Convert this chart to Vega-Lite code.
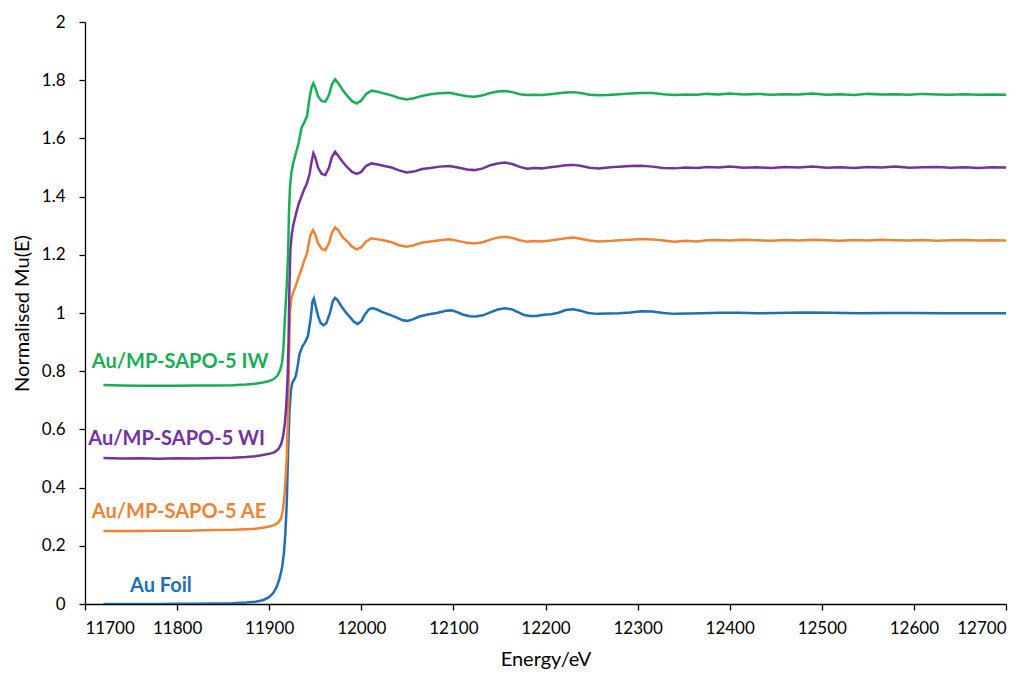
{
  "$schema": "https://vega.github.io/schema/vega-lite/v6.json",
  "autosize": {"type": "none"},
  "padding": {"left": 85, "top": 22, "right": 28, "bottom": 69},
  "width": 921,
  "height": 582,
  "background": "white",
  "config": {
    "view": {"stroke": null},
    "axis": {"grid": false, "domainColor": "#000000", "tickColor": "#000000", "labelColor": "#000000", "titleColor": "#000000", "labelFont": "Lato", "titleFont": "Lato", "labelFontSize": 17, "titleFontSize": 20, "titleFontWeight": "normal", "tickSize": 6, "domainWidth": 1.3, "tickWidth": 1.3}
  },
  "datasets": {
    "spectra": [
      {"s": "Au Foil", "e": 11720, "m": 0.000}, {"s": "Au Foil", "e": 11740, "m": 0.000}, {"s": "Au Foil", "e": 11760, "m": 0.000}, {"s": "Au Foil", "e": 11780, "m": 0.000}, {"s": "Au Foil", "e": 11800, "m": 0.001}, {"s": "Au Foil", "e": 11820, "m": 0.001}, {"s": "Au Foil", "e": 11840, "m": 0.002}, {"s": "Au Foil", "e": 11860, "m": 0.003}, {"s": "Au Foil", "e": 11875, "m": 0.005}, {"s": "Au Foil", "e": 11885, "m": 0.008}, {"s": "Au Foil", "e": 11893, "m": 0.013}, {"s": "Au Foil", "e": 11899, "m": 0.022}, {"s": "Au Foil", "e": 11904, "m": 0.036}, {"s": "Au Foil", "e": 11908, "m": 0.058}, {"s": "Au Foil", "e": 11911, "m": 0.085}, {"s": "Au Foil", "e": 11914, "m": 0.125}, {"s": "Au Foil", "e": 11916, "m": 0.175}, {"s": "Au Foil", "e": 11917.5, "m": 0.24}, {"s": "Au Foil", "e": 11919, "m": 0.34}, {"s": "Au Foil", "e": 11920.5, "m": 0.52}, {"s": "Au Foil", "e": 11922, "m": 0.66}, {"s": "Au Foil", "e": 11923.5, "m": 0.73}, {"s": "Au Foil", "e": 11925, "m": 0.76}, {"s": "Au Foil", "e": 11927, "m": 0.77}, {"s": "Au Foil", "e": 11929, "m": 0.785}, {"s": "Au Foil", "e": 11931, "m": 0.82}, {"s": "Au Foil", "e": 11933, "m": 0.86}, {"s": "Au Foil", "e": 11936, "m": 0.885}, {"s": "Au Foil", "e": 11939, "m": 0.9}, {"s": "Au Foil", "e": 11942, "m": 0.92}, {"s": "Au Foil", "e": 11945, "m": 0.98}, {"s": "Au Foil", "e": 11947, "m": 1.04}, {"s": "Au Foil", "e": 11948.5, "m": 1.05}, {"s": "Au Foil", "e": 11950, "m": 1.03}, {"s": "Au Foil", "e": 11953, "m": 0.99}, {"s": "Au Foil", "e": 11956, "m": 0.965}, {"s": "Au Foil", "e": 11959, "m": 0.958}, {"s": "Au Foil", "e": 11962, "m": 0.965}, {"s": "Au Foil", "e": 11966, "m": 1.0}, {"s": "Au Foil", "e": 11969, "m": 1.04}, {"s": "Au Foil", "e": 11971.5, "m": 1.052}, {"s": "Au Foil", "e": 11974, "m": 1.045}, {"s": "Au Foil", "e": 11978, "m": 1.025}, {"s": "Au Foil", "e": 11983, "m": 1.003}, {"s": "Au Foil", "e": 11988, "m": 0.985}, {"s": "Au Foil", "e": 11992, "m": 0.97}, {"s": "Au Foil", "e": 11996, "m": 0.962}, {"s": "Au Foil", "e": 12000, "m": 0.972}, {"s": "Au Foil", "e": 12004, "m": 0.995}, {"s": "Au Foil", "e": 12008, "m": 1.012}, {"s": "Au Foil", "e": 12012, "m": 1.017}, {"s": "Au Foil", "e": 12017, "m": 1.012}, {"s": "Au Foil", "e": 12023, "m": 1.003}, {"s": "Au Foil", "e": 12030, "m": 0.995}, {"s": "Au Foil", "e": 12038, "m": 0.985}, {"s": "Au Foil", "e": 12045, "m": 0.975}, {"s": "Au Foil", "e": 12050, "m": 0.973}, {"s": "Au Foil", "e": 12056, "m": 0.978}, {"s": "Au Foil", "e": 12063, "m": 0.988}, {"s": "Au Foil", "e": 12072, "m": 0.995}, {"s": "Au Foil", "e": 12082, "m": 1.0}, {"s": "Au Foil", "e": 12092, "m": 1.008}, {"s": "Au Foil", "e": 12098, "m": 1.009}, {"s": "Au Foil", "e": 12104, "m": 1.003}, {"s": "Au Foil", "e": 12110, "m": 0.995}, {"s": "Au Foil", "e": 12118, "m": 0.989}, {"s": "Au Foil", "e": 12124, "m": 0.988}, {"s": "Au Foil", "e": 12132, "m": 0.992}, {"s": "Au Foil", "e": 12140, "m": 1.002}, {"s": "Au Foil", "e": 12148, "m": 1.012}, {"s": "Au Foil", "e": 12156, "m": 1.016}, {"s": "Au Foil", "e": 12163, "m": 1.013}, {"s": "Au Foil", "e": 12170, "m": 1.003}, {"s": "Au Foil", "e": 12177, "m": 0.993}, {"s": "Au Foil", "e": 12183, "m": 0.99}, {"s": "Au Foil", "e": 12190, "m": 0.99}, {"s": "Au Foil", "e": 12198, "m": 0.994}, {"s": "Au Foil", "e": 12206, "m": 0.996}, {"s": "Au Foil", "e": 12214, "m": 1.001}, {"s": "Au Foil", "e": 12222, "m": 1.01}, {"s": "Au Foil", "e": 12230, "m": 1.013}, {"s": "Au Foil", "e": 12238, "m": 1.008}, {"s": "Au Foil", "e": 12246, "m": 1.0}, {"s": "Au Foil", "e": 12256, "m": 0.997}, {"s": "Au Foil", "e": 12268, "m": 0.998}, {"s": "Au Foil", "e": 12280, "m": 0.999}, {"s": "Au Foil", "e": 12292, "m": 1.002}, {"s": "Au Foil", "e": 12304, "m": 1.006}, {"s": "Au Foil", "e": 12316, "m": 1.005}, {"s": "Au Foil", "e": 12328, "m": 1.0}, {"s": "Au Foil", "e": 12340, "m": 0.997}, {"s": "Au Foil", "e": 12355, "m": 0.998}, {"s": "Au Foil", "e": 12370, "m": 0.999}, {"s": "Au Foil", "e": 12390, "m": 1.001}, {"s": "Au Foil", "e": 12410, "m": 1.001}, {"s": "Au Foil", "e": 12430, "m": 0.999}, {"s": "Au Foil", "e": 12450, "m": 1.0}, {"s": "Au Foil", "e": 12480, "m": 1.002}, {"s": "Au Foil", "e": 12510, "m": 1.001}, {"s": "Au Foil", "e": 12540, "m": 0.999}, {"s": "Au Foil", "e": 12570, "m": 1.0}, {"s": "Au Foil", "e": 12600, "m": 1.0}, {"s": "Au Foil", "e": 12630, "m": 0.999}, {"s": "Au Foil", "e": 12660, "m": 0.999}, {"s": "Au Foil", "e": 12700, "m": 0.999},

      {"s": "AE", "e": 11720, "m": 0.251}, {"s": "AE", "e": 11750, "m": 0.251}, {"s": "AE", "e": 11780, "m": 0.252}, {"s": "AE", "e": 11810, "m": 0.252}, {"s": "AE", "e": 11840, "m": 0.254}, {"s": "AE", "e": 11860, "m": 0.255}, {"s": "AE", "e": 11875, "m": 0.257}, {"s": "AE", "e": 11885, "m": 0.259}, {"s": "AE", "e": 11893, "m": 0.262}, {"s": "AE", "e": 11900, "m": 0.266}, {"s": "AE", "e": 11906, "m": 0.272}, {"s": "AE", "e": 11910, "m": 0.28}, {"s": "AE", "e": 11913, "m": 0.295}, {"s": "AE", "e": 11915, "m": 0.325}, {"s": "AE", "e": 11917, "m": 0.39}, {"s": "AE", "e": 11919, "m": 0.5}, {"s": "AE", "e": 11920.5, "m": 0.65}, {"s": "AE", "e": 11921.5, "m": 0.85}, {"s": "AE", "e": 11922.5, "m": 1.0}, {"s": "AE", "e": 11924, "m": 1.05}, {"s": "AE", "e": 11926, "m": 1.07}, {"s": "AE", "e": 11929, "m": 1.095}, {"s": "AE", "e": 11932, "m": 1.125}, {"s": "AE", "e": 11935, "m": 1.15}, {"s": "AE", "e": 11938, "m": 1.18}, {"s": "AE", "e": 11941, "m": 1.205}, {"s": "AE", "e": 11943, "m": 1.24}, {"s": "AE", "e": 11945, "m": 1.27}, {"s": "AE", "e": 11947.5, "m": 1.285}, {"s": "AE", "e": 11950, "m": 1.27}, {"s": "AE", "e": 11953, "m": 1.24}, {"s": "AE", "e": 11957, "m": 1.22}, {"s": "AE", "e": 11961, "m": 1.216}, {"s": "AE", "e": 11965, "m": 1.24}, {"s": "AE", "e": 11968, "m": 1.275}, {"s": "AE", "e": 11971.5, "m": 1.294}, {"s": "AE", "e": 11975, "m": 1.285}, {"s": "AE", "e": 11980, "m": 1.26}, {"s": "AE", "e": 11985, "m": 1.245}, {"s": "AE", "e": 11990, "m": 1.228}, {"s": "AE", "e": 11995, "m": 1.219}, {"s": "AE", "e": 12000, "m": 1.226}, {"s": "AE", "e": 12005, "m": 1.245}, {"s": "AE", "e": 12011, "m": 1.257}, {"s": "AE", "e": 12018, "m": 1.253}, {"s": "AE", "e": 12025, "m": 1.249}, {"s": "AE", "e": 12033, "m": 1.243}, {"s": "AE", "e": 12041, "m": 1.233}, {"s": "AE", "e": 12049, "m": 1.228}, {"s": "AE", "e": 12057, "m": 1.233}, {"s": "AE", "e": 12066, "m": 1.242}, {"s": "AE", "e": 12075, "m": 1.246}, {"s": "AE", "e": 12085, "m": 1.25}, {"s": "AE", "e": 12096, "m": 1.253}, {"s": "AE", "e": 12106, "m": 1.247}, {"s": "AE", "e": 12115, "m": 1.241}, {"s": "AE", "e": 12123, "m": 1.239}, {"s": "AE", "e": 12132, "m": 1.243}, {"s": "AE", "e": 12140, "m": 1.252}, {"s": "AE", "e": 12148, "m": 1.259}, {"s": "AE", "e": 12156, "m": 1.262}, {"s": "AE", "e": 12164, "m": 1.258}, {"s": "AE", "e": 12172, "m": 1.25}, {"s": "AE", "e": 12180, "m": 1.245}, {"s": "AE", "e": 12188, "m": 1.247}, {"s": "AE", "e": 12196, "m": 1.246}, {"s": "AE", "e": 12205, "m": 1.249}, {"s": "AE", "e": 12214, "m": 1.253}, {"s": "AE", "e": 12222, "m": 1.257}, {"s": "AE", "e": 12230, "m": 1.259}, {"s": "AE", "e": 12238, "m": 1.255}, {"s": "AE", "e": 12248, "m": 1.249}, {"s": "AE", "e": 12258, "m": 1.246}, {"s": "AE", "e": 12268, "m": 1.247}, {"s": "AE", "e": 12280, "m": 1.25}, {"s": "AE", "e": 12292, "m": 1.252}, {"s": "AE", "e": 12304, "m": 1.254}, {"s": "AE", "e": 12316, "m": 1.253}, {"s": "AE", "e": 12328, "m": 1.249}, {"s": "AE", "e": 12340, "m": 1.245}, {"s": "AE", "e": 12352, "m": 1.248}, {"s": "AE", "e": 12364, "m": 1.246}, {"s": "AE", "e": 12376, "m": 1.25}, {"s": "AE", "e": 12388, "m": 1.251}, {"s": "AE", "e": 12400, "m": 1.249}, {"s": "AE", "e": 12415, "m": 1.252}, {"s": "AE", "e": 12430, "m": 1.25}, {"s": "AE", "e": 12445, "m": 1.248}, {"s": "AE", "e": 12460, "m": 1.251}, {"s": "AE", "e": 12475, "m": 1.249}, {"s": "AE", "e": 12490, "m": 1.252}, {"s": "AE", "e": 12505, "m": 1.25}, {"s": "AE", "e": 12520, "m": 1.248}, {"s": "AE", "e": 12535, "m": 1.251}, {"s": "AE", "e": 12550, "m": 1.249}, {"s": "AE", "e": 12565, "m": 1.252}, {"s": "AE", "e": 12580, "m": 1.25}, {"s": "AE", "e": 12595, "m": 1.249}, {"s": "AE", "e": 12610, "m": 1.251}, {"s": "AE", "e": 12625, "m": 1.248}, {"s": "AE", "e": 12640, "m": 1.25}, {"s": "AE", "e": 12655, "m": 1.251}, {"s": "AE", "e": 12670, "m": 1.249}, {"s": "AE", "e": 12685, "m": 1.25}, {"s": "AE", "e": 12700, "m": 1.249},

      {"s": "WI", "e": 11720, "m": 0.502}, {"s": "WI", "e": 11740, "m": 0.5}, {"s": "WI", "e": 11760, "m": 0.501}, {"s": "WI", "e": 11780, "m": 0.499}, {"s": "WI", "e": 11800, "m": 0.501}, {"s": "WI", "e": 11820, "m": 0.5}, {"s": "WI", "e": 11840, "m": 0.502}, {"s": "WI", "e": 11860, "m": 0.503}, {"s": "WI", "e": 11875, "m": 0.505}, {"s": "WI", "e": 11885, "m": 0.508}, {"s": "WI", "e": 11893, "m": 0.512}, {"s": "WI", "e": 11900, "m": 0.516}, {"s": "WI", "e": 11906, "m": 0.522}, {"s": "WI", "e": 11910, "m": 0.532}, {"s": "WI", "e": 11913, "m": 0.55}, {"s": "WI", "e": 11915, "m": 0.575}, {"s": "WI", "e": 11917, "m": 0.62}, {"s": "WI", "e": 11918.5, "m": 0.68}, {"s": "WI", "e": 11920, "m": 0.78}, {"s": "WI", "e": 11921, "m": 0.9}, {"s": "WI", "e": 11922, "m": 1.1}, {"s": "WI", "e": 11923, "m": 1.22}, {"s": "WI", "e": 11924.5, "m": 1.27}, {"s": "WI", "e": 11926, "m": 1.3}, {"s": "WI", "e": 11929, "m": 1.34}, {"s": "WI", "e": 11932, "m": 1.375}, {"s": "WI", "e": 11935, "m": 1.4}, {"s": "WI", "e": 11938, "m": 1.425}, {"s": "WI", "e": 11941, "m": 1.446}, {"s": "WI", "e": 11944, "m": 1.48}, {"s": "WI", "e": 11946, "m": 1.52}, {"s": "WI", "e": 11948, "m": 1.549}, {"s": "WI", "e": 11950, "m": 1.535}, {"s": "WI", "e": 11953, "m": 1.5}, {"s": "WI", "e": 11957, "m": 1.478}, {"s": "WI", "e": 11961, "m": 1.474}, {"s": "WI", "e": 11965, "m": 1.5}, {"s": "WI", "e": 11968, "m": 1.535}, {"s": "WI", "e": 11971.5, "m": 1.554}, {"s": "WI", "e": 11975, "m": 1.54}, {"s": "WI", "e": 11980, "m": 1.518}, {"s": "WI", "e": 11985, "m": 1.5}, {"s": "WI", "e": 11990, "m": 1.485}, {"s": "WI", "e": 11995, "m": 1.478}, {"s": "WI", "e": 12000, "m": 1.485}, {"s": "WI", "e": 12005, "m": 1.505}, {"s": "WI", "e": 12011, "m": 1.514}, {"s": "WI", "e": 12018, "m": 1.51}, {"s": "WI", "e": 12025, "m": 1.505}, {"s": "WI", "e": 12033, "m": 1.5}, {"s": "WI", "e": 12041, "m": 1.49}, {"s": "WI", "e": 12049, "m": 1.483}, {"s": "WI", "e": 12057, "m": 1.486}, {"s": "WI", "e": 12066, "m": 1.495}, {"s": "WI", "e": 12075, "m": 1.498}, {"s": "WI", "e": 12085, "m": 1.503}, {"s": "WI", "e": 12096, "m": 1.505}, {"s": "WI", "e": 12106, "m": 1.499}, {"s": "WI", "e": 12115, "m": 1.493}, {"s": "WI", "e": 12123, "m": 1.491}, {"s": "WI", "e": 12132, "m": 1.497}, {"s": "WI", "e": 12140, "m": 1.508}, {"s": "WI", "e": 12148, "m": 1.514}, {"s": "WI", "e": 12156, "m": 1.517}, {"s": "WI", "e": 12164, "m": 1.512}, {"s": "WI", "e": 12172, "m": 1.502}, {"s": "WI", "e": 12180, "m": 1.496}, {"s": "WI", "e": 12188, "m": 1.498}, {"s": "WI", "e": 12196, "m": 1.497}, {"s": "WI", "e": 12205, "m": 1.501}, {"s": "WI", "e": 12214, "m": 1.504}, {"s": "WI", "e": 12222, "m": 1.508}, {"s": "WI", "e": 12230, "m": 1.509}, {"s": "WI", "e": 12238, "m": 1.506}, {"s": "WI", "e": 12248, "m": 1.499}, {"s": "WI", "e": 12258, "m": 1.497}, {"s": "WI", "e": 12268, "m": 1.5}, {"s": "WI", "e": 12280, "m": 1.503}, {"s": "WI", "e": 12292, "m": 1.505}, {"s": "WI", "e": 12304, "m": 1.506}, {"s": "WI", "e": 12316, "m": 1.503}, {"s": "WI", "e": 12328, "m": 1.498}, {"s": "WI", "e": 12340, "m": 1.497}, {"s": "WI", "e": 12352, "m": 1.5}, {"s": "WI", "e": 12364, "m": 1.498}, {"s": "WI", "e": 12376, "m": 1.502}, {"s": "WI", "e": 12388, "m": 1.5}, {"s": "WI", "e": 12400, "m": 1.503}, {"s": "WI", "e": 12415, "m": 1.499}, {"s": "WI", "e": 12430, "m": 1.501}, {"s": "WI", "e": 12445, "m": 1.498}, {"s": "WI", "e": 12460, "m": 1.502}, {"s": "WI", "e": 12475, "m": 1.5}, {"s": "WI", "e": 12490, "m": 1.503}, {"s": "WI", "e": 12505, "m": 1.499}, {"s": "WI", "e": 12520, "m": 1.501}, {"s": "WI", "e": 12535, "m": 1.498}, {"s": "WI", "e": 12550, "m": 1.502}, {"s": "WI", "e": 12565, "m": 1.5}, {"s": "WI", "e": 12580, "m": 1.503}, {"s": "WI", "e": 12595, "m": 1.499}, {"s": "WI", "e": 12610, "m": 1.501}, {"s": "WI", "e": 12625, "m": 1.502}, {"s": "WI", "e": 12640, "m": 1.499}, {"s": "WI", "e": 12655, "m": 1.501}, {"s": "WI", "e": 12670, "m": 1.498}, {"s": "WI", "e": 12685, "m": 1.501}, {"s": "WI", "e": 12700, "m": 1.5},

      {"s": "IW", "e": 11720, "m": 0.753}, {"s": "IW", "e": 11740, "m": 0.751}, {"s": "IW", "e": 11760, "m": 0.75}, {"s": "IW", "e": 11780, "m": 0.75}, {"s": "IW", "e": 11800, "m": 0.75}, {"s": "IW", "e": 11820, "m": 0.751}, {"s": "IW", "e": 11840, "m": 0.751}, {"s": "IW", "e": 11860, "m": 0.752}, {"s": "IW", "e": 11875, "m": 0.754}, {"s": "IW", "e": 11885, "m": 0.757}, {"s": "IW", "e": 11893, "m": 0.761}, {"s": "IW", "e": 11900, "m": 0.766}, {"s": "IW", "e": 11905, "m": 0.773}, {"s": "IW", "e": 11909, "m": 0.785}, {"s": "IW", "e": 11912, "m": 0.805}, {"s": "IW", "e": 11914, "m": 0.83}, {"s": "IW", "e": 11915.5, "m": 0.88}, {"s": "IW", "e": 11917, "m": 0.98}, {"s": "IW", "e": 11919, "m": 1.09}, {"s": "IW", "e": 11920.5, "m": 1.2}, {"s": "IW", "e": 11921.5, "m": 1.35}, {"s": "IW", "e": 11922.6, "m": 1.434}, {"s": "IW", "e": 11924, "m": 1.48}, {"s": "IW", "e": 11926, "m": 1.514}, {"s": "IW", "e": 11929, "m": 1.55}, {"s": "IW", "e": 11932, "m": 1.585}, {"s": "IW", "e": 11935, "m": 1.635}, {"s": "IW", "e": 11938, "m": 1.655}, {"s": "IW", "e": 11941, "m": 1.675}, {"s": "IW", "e": 11944, "m": 1.743}, {"s": "IW", "e": 11946, "m": 1.775}, {"s": "IW", "e": 11948, "m": 1.789}, {"s": "IW", "e": 11950, "m": 1.775}, {"s": "IW", "e": 11953, "m": 1.745}, {"s": "IW", "e": 11957, "m": 1.728}, {"s": "IW", "e": 11961, "m": 1.726}, {"s": "IW", "e": 11965, "m": 1.75}, {"s": "IW", "e": 11968, "m": 1.785}, {"s": "IW", "e": 11971.5, "m": 1.803}, {"s": "IW", "e": 11975, "m": 1.79}, {"s": "IW", "e": 11980, "m": 1.765}, {"s": "IW", "e": 11985, "m": 1.745}, {"s": "IW", "e": 11990, "m": 1.728}, {"s": "IW", "e": 11995, "m": 1.72}, {"s": "IW", "e": 12000, "m": 1.73}, {"s": "IW", "e": 12005, "m": 1.752}, {"s": "IW", "e": 12011, "m": 1.764}, {"s": "IW", "e": 12018, "m": 1.76}, {"s": "IW", "e": 12025, "m": 1.754}, {"s": "IW", "e": 12033, "m": 1.748}, {"s": "IW", "e": 12041, "m": 1.739}, {"s": "IW", "e": 12049, "m": 1.734}, {"s": "IW", "e": 12057, "m": 1.738}, {"s": "IW", "e": 12066, "m": 1.746}, {"s": "IW", "e": 12075, "m": 1.752}, {"s": "IW", "e": 12085, "m": 1.755}, {"s": "IW", "e": 12096, "m": 1.757}, {"s": "IW", "e": 12106, "m": 1.75}, {"s": "IW", "e": 12115, "m": 1.745}, {"s": "IW", "e": 12123, "m": 1.743}, {"s": "IW", "e": 12132, "m": 1.748}, {"s": "IW", "e": 12140, "m": 1.756}, {"s": "IW", "e": 12148, "m": 1.761}, {"s": "IW", "e": 12156, "m": 1.763}, {"s": "IW", "e": 12164, "m": 1.759}, {"s": "IW", "e": 12172, "m": 1.752}, {"s": "IW", "e": 12180, "m": 1.749}, {"s": "IW", "e": 12188, "m": 1.75}, {"s": "IW", "e": 12196, "m": 1.749}, {"s": "IW", "e": 12205, "m": 1.752}, {"s": "IW", "e": 12214, "m": 1.755}, {"s": "IW", "e": 12222, "m": 1.758}, {"s": "IW", "e": 12230, "m": 1.759}, {"s": "IW", "e": 12238, "m": 1.756}, {"s": "IW", "e": 12248, "m": 1.75}, {"s": "IW", "e": 12258, "m": 1.748}, {"s": "IW", "e": 12268, "m": 1.749}, {"s": "IW", "e": 12280, "m": 1.752}, {"s": "IW", "e": 12292, "m": 1.754}, {"s": "IW", "e": 12304, "m": 1.756}, {"s": "IW", "e": 12316, "m": 1.756}, {"s": "IW", "e": 12328, "m": 1.752}, {"s": "IW", "e": 12340, "m": 1.749}, {"s": "IW", "e": 12352, "m": 1.751}, {"s": "IW", "e": 12364, "m": 1.75}, {"s": "IW", "e": 12376, "m": 1.753}, {"s": "IW", "e": 12388, "m": 1.751}, {"s": "IW", "e": 12400, "m": 1.754}, {"s": "IW", "e": 12415, "m": 1.751}, {"s": "IW", "e": 12430, "m": 1.753}, {"s": "IW", "e": 12445, "m": 1.75}, {"s": "IW", "e": 12460, "m": 1.752}, {"s": "IW", "e": 12475, "m": 1.751}, {"s": "IW", "e": 12490, "m": 1.754}, {"s": "IW", "e": 12505, "m": 1.75}, {"s": "IW", "e": 12520, "m": 1.752}, {"s": "IW", "e": 12535, "m": 1.749}, {"s": "IW", "e": 12550, "m": 1.753}, {"s": "IW", "e": 12565, "m": 1.751}, {"s": "IW", "e": 12580, "m": 1.752}, {"s": "IW", "e": 12595, "m": 1.75}, {"s": "IW", "e": 12610, "m": 1.753}, {"s": "IW", "e": 12625, "m": 1.751}, {"s": "IW", "e": 12640, "m": 1.75}, {"s": "IW", "e": 12655, "m": 1.752}, {"s": "IW", "e": 12670, "m": 1.75}, {"s": "IW", "e": 12685, "m": 1.751}, {"s": "IW", "e": 12700, "m": 1.75}
    ],
    "labels": [
      {"s": "IW", "label": "Au/MP-SAPO-5 IW", "e": 11707.3, "m": 0.811},
      {"s": "WI", "label": "Au/MP-SAPO-5 WI", "e": 11703.6, "m": 0.546},
      {"s": "AE", "label": "Au/MP-SAPO-5 AE", "e": 11707.3, "m": 0.2945},
      {"s": "Au Foil", "label": "Au Foil", "e": 11748.9, "m": 0.04}
    ]
  },
  "encoding": {
    "x": {"field": "e", "type": "quantitative", "scale": {"domain": [11700, 12700], "nice": false, "zero": false}, "axis": {"title": "Energy/eV", "values": [11700, 11800, 11900, 12000, 12100, 12200, 12300, 12400, 12500, 12600, 12700], "format": "d", "labelPadding": 10, "titlePadding": 13}},
    "y": {"field": "m", "type": "quantitative", "scale": {"domain": [0, 2], "nice": false}, "axis": {"title": "Normalised Mu(E)", "values": [0, 0.2, 0.4, 0.6, 0.8, 1, 1.2, 1.4, 1.6, 1.8, 2], "format": ".1~f", "labelPadding": 14, "titlePadding": 9}},
    "color": {"field": "s", "type": "nominal", "legend": null, "scale": {"domain": ["Au Foil", "AE", "WI", "IW"], "range": ["#1F6FB6", "#EE8236", "#7432A0", "#19AD55"]}}
  },
  "layer": [
    {"data": {"name": "spectra"}, "mark": {"type": "line", "strokeWidth": 2.5, "clip": true}, "encoding": {"detail": {"field": "s"}}},
    {"data": {"name": "labels"}, "mark": {"type": "text", "align": "left", "baseline": "alphabetic", "font": "Lato", "fontWeight": "bold", "fontSize": 20}, "encoding": {"text": {"field": "label"}}}
  ]
}
